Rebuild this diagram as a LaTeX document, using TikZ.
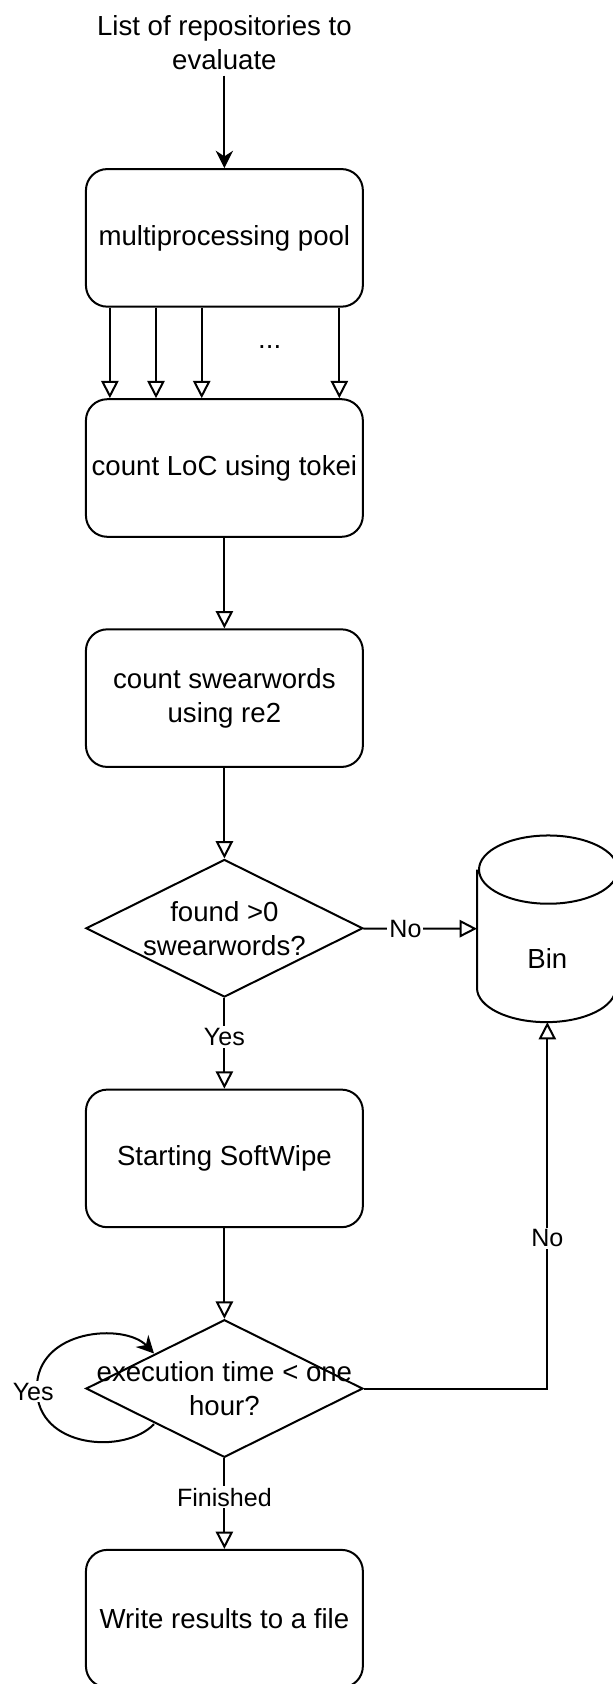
\documentclass[tikz,border=0pt]{standalone}
\usepackage{fontspec}
\setmainfont{Liberation Sans}
\usetikzlibrary{shapes.geometric,arrows.meta}

\begin{document}
\begin{tikzpicture}[node distance=172.6pt, line width=1.5pt,
                    main node/.style={rectangle,draw,rounded corners=16pt,minimum width=207.7pt,minimum height=103.2pt,align=center,font=\fontsize{20.7}{25.5}\selectfont},
                    decision node/.style={diamond,draw,minimum width=207.7pt,minimum height=103.2pt,inner sep=0pt},
                    text node/.style={align=center,font=\fontsize{20.7}{25.5}\selectfont},
                    bin node/.style={rectangle,minimum width=104pt,minimum height=138.5pt},
                    label node/.style={fill=white,inner sep=1.5pt,font=\fontsize{18.8}{22}\selectfont},
                    open arrow/.style={-{Triangle[open,length=13pt,width=13pt]}},
                    solid arrow/.style={-{Stealth[length=13pt,width=13pt]}}]

  \useasboundingbox (0,0) rectangle (459.75pt,-1263pt);

  \node[text node] (0) at (168.3pt,-32.3pt) {List of repositories to\\evaluate};
  \node[main node] (1) at (168.3pt,-178.4pt) {multiprocessing pool};
  \node[main node] (2) [below of=1] {count LoC using tokei};
  \node[main node] (3) [below of=2] {count swearwords\\using re2};
  \node[decision node] (4) [below of=3] {};
  \node[text node] (4t) at (4) {found >0\\swearwords?};
  \node[main node] (5) [below of=4] {Starting SoftWipe};
  \node[decision node] (6) [below of=5] {};
  \node[text node] (6t) at (6) {execution time < one\\hour?};
  \node[main node] (7) [below of=6] {Write results to a file};
  \node[bin node] (8) at (410.5pt,-696.6pt) {};
  \node[text node] (8t) at ([yshift=-22pt]8.center) {Bin};
  \node[text node] (dots) at (202.3pt,-260pt) {...};

  % the bin drawn as a cylinder
  \draw ([yshift=-25.6pt]8.north west) -- ([yshift=25.6pt]8.south west)
        arc[start angle=180,end angle=360,x radius=52pt,y radius=25.6pt]
        -- ([yshift=-25.6pt]8.north east)
        arc[start angle=0,end angle=360,x radius=52pt,y radius=25.6pt];

  \draw[solid arrow] (0) -- (1);
  \foreach \dx in {-85.9,-51.3,-17,86.2}
    \draw[open arrow] ([xshift=\dx pt]1.south) -- ([xshift=\dx pt]2.north);

  \path[open arrow,every node/.style={label node}]
    (2) edge (3)
    (3) edge (4)
    (4) edge node[pos=0.37] {No} (8)
        edge node[pos=0.43] {Yes} (5)
    (5) edge (6)
    (6) edge node[pos=0.43] {Finished} (7);
  \draw[open arrow] (6.east) -| node[label node,pos=0.705] {No} (8.south);

  % loop while still running
  \draw[solid arrow] ([shift={(-52.8pt,-26.7pt)}]6.center)
      .. controls +(-22pt,-23pt) and +(0pt,-45pt) .. ([xshift=-140.7pt]6.center)
      .. controls +(0pt,45pt) and +(-22pt,23pt) .. ([shift={(-52.8pt,26.3pt)}]6.center);
  \node[label node] (yes) at (24.9pt,-1043.8pt) {Yes};
\end{tikzpicture}
\end{document}
